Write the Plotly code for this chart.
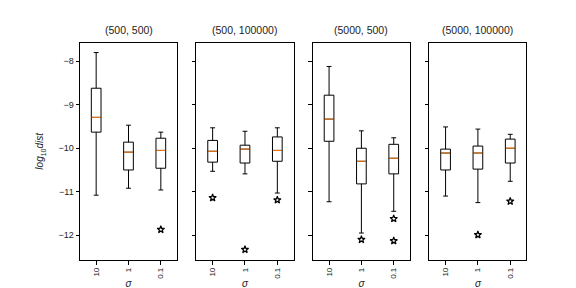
import plotly.graph_objects as go

titles = ["(500, 500)", "(500, 100000)", "(5000, 500)", "(5000, 100000)"]
sigma_labels = ["10", "1", "0.1"]
positions = [1, 2, 3]

# per panel: lists over sigma = 10, 1, 0.1
upper_whisker = [[-7.80, -9.47, -9.63], [-9.53, -9.61, -9.53], [-8.12, -9.60, -9.76], [-9.51, -9.56, -9.68]]
q3_vals = [[-8.62, -9.86, -9.77], [-9.82, -9.93, -9.74], [-8.78, -10.00, -9.91], [-10.02, -9.95, -9.79]]
median_vals = [[-9.29, -10.09, -10.05], [-10.07, -10.02, -10.05], [-9.33, -10.30, -10.23], [-10.11, -10.11, -10.00]]
q1_vals = [[-9.63, -10.50, -10.46], [-10.32, -10.34, -10.30], [-9.84, -10.82, -10.59], [-10.50, -10.48, -10.34]]
lower_whisker = [[-11.08, -10.92, -10.96], [-10.53, -10.59, -11.03], [-11.23, -11.95, -11.45], [-11.10, -11.25, -10.76]]
# outliers: (sigma index, value)
outliers = [
    [(2, -11.87)],
    [(0, -11.14), (1, -12.33), (2, -11.19)],
    [(1, -12.10), (2, -11.62), (2, -12.13)],
    [(1, -11.99), (2, -11.22)],
]

W = 576
H = 288
x_dom_px = [(72.0, 169.0), (188.45, 285.5), (304.9, 401.9), (421.4, 518.4)]
y_dom = [0.125, 0.88]
y_range = [-12.57, -7.57]
box_w = 0.3

font_family = "Liberation Sans, Arial, sans-serif"

fig = go.Figure()
for p in range(4):
    xa = "x" if p == 0 else f"x{p+1}"
    ya = "y" if p == 0 else f"y{p+1}"
    fig.add_trace(go.Box(
        x=positions, q1=q1_vals[p], median=median_vals[p], q3=q3_vals[p],
        lowerfence=lower_whisker[p], upperfence=upper_whisker[p],
        width=box_w, whiskerwidth=0.5, boxpoints=False,
        line=dict(color="black", width=1), fillcolor="rgba(0,0,0,0)",
        xaxis=xa, yaxis=ya, showlegend=False, hoverinfo="skip"))
    mx, my = [], []
    for i, pos in enumerate(positions):
        mx += [pos - box_w / 2 + 0.01, pos + box_w / 2 - 0.01, None]
        my += [median_vals[p][i], median_vals[p][i], None]
    fig.add_trace(go.Scatter(x=mx, y=my, mode="lines", line=dict(color="#ff7f0e", width=1),
                             xaxis=xa, yaxis=ya, showlegend=False, hoverinfo="skip"))
    if outliers[p]:
        fig.add_trace(go.Scatter(
            x=[positions[i] for i, v in outliers[p]], y=[v for i, v in outliers[p]],
            mode="markers", marker=dict(symbol="star-open", size=5.5, color="black", line=dict(width=1.2, color="black")),
            xaxis=xa, yaxis=ya, showlegend=False, hoverinfo="skip"))

layout = dict(
    width=W, height=H, margin=dict(l=0, r=0, t=0, b=0),
    paper_bgcolor="white", plot_bgcolor="white",
    font=dict(family=font_family, size=9, color="#222"),
    annotations=[],
)
for p in range(4):
    xk = "xaxis" if p == 0 else f"xaxis{p+1}"
    yk = "yaxis" if p == 0 else f"yaxis{p+1}"
    ya = "y" if p == 0 else f"y{p+1}"
    xa = "x" if p == 0 else f"x{p+1}"
    layout[xk] = dict(
        domain=[x_dom_px[p][0] / W, x_dom_px[p][1] / W], anchor=ya, automargin=False,
        range=[0.5, 3.5], tickmode="array", tickvals=positions, ticktext=sigma_labels,
        tickangle=-90, ticks="outside", ticklen=3.5, tickwidth=0.8, tickcolor="black",
        showline=True, mirror=True, linecolor="black", linewidth=1, showgrid=False, zeroline=False,
        tickfont=dict(size=8, color="#222"),
        title=dict(text="<i>σ</i>", font=dict(size=10, color="#222"), standoff=2),
    )
    layout[yk] = dict(
        domain=y_dom, anchor=xa, range=y_range, tickmode="array", tickvals=[-12, -11, -10, -9, -8],
        automargin=False,
        ticks="outside", ticklen=3.5, tickwidth=0.8, tickcolor="black",
        showline=True, mirror=True, linecolor="black", linewidth=1, showgrid=False, zeroline=False,
        showticklabels=(p == 0), tickfont=dict(size=9, color="#222"),
    )
    if p == 0:
        layout[yk]["title"] = dict(text="<i>log</i><sub>10</sub><i>dist</i>", font=dict(size=10, color="#222"), standoff=12)
    else:
        layout[yk]["matches"] = "y"
    layout["annotations"].append(dict(
        text=titles[p], xref="paper", yref="paper",
        x=(x_dom_px[p][0] + x_dom_px[p][1]) / 2 / W, y=y_dom[1], yshift=5,
        xanchor="center", yanchor="bottom", showarrow=False,
        font=dict(size=10.5, color="#222")))

fig.update_layout(**layout)
fig.write_html("out.html")
